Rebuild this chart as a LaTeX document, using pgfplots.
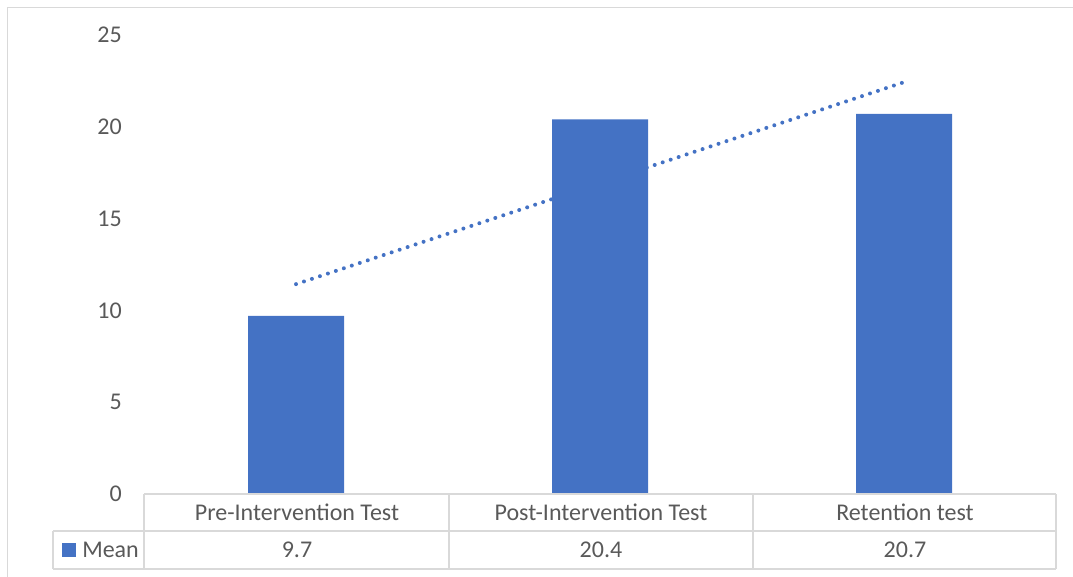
\documentclass[border=0pt]{standalone}
\usepackage{fontspec}
\setmainfont{Carlito}
\usepackage{pgfplots}
\pgfplotsset{compat=1.18}
\definecolor{barblue}{HTML}{4472C4}
\definecolor{txt}{HTML}{595959}
\definecolor{gridc}{HTML}{D9D9D9}
\begin{document}
\begin{tikzpicture}[x=0.75pt,y=-0.75pt]
\useasboundingbox (0,0) rectangle (1073,577);
\draw[gridc, line width=1.1pt] (7.5,577) -- (7.5,7.5) -- (1073,7.5);
\begin{axis}[
  at={(108pt,-370.5pt)}, anchor=south west,
  width=684pt, height=344.25pt, scale only axis,
  xmin=-0.5, xmax=2.5, ymin=0, ymax=25,
  axis line style={draw=none}, major tick length=0pt,
  xtick=\empty, ytick={0,5,10,15,20,25},
  /pgf/number format/assume math mode=true,
  yticklabel style={text=txt, font=\fontsize{18}{21}\selectfont, inner sep=0pt, anchor=east},
  yticklabel shift=16.5pt,
  clip=false,
]
\addplot[barblue, line width=3pt, line cap=round, dash pattern=on 0pt off 6.3pt] coordinates {(0,11.43) (2,22.43)};
\addplot[ybar, bar width=72pt, bar shift=0pt, fill=barblue, draw=none] coordinates {(0,9.7) (1,20.4) (2,20.7)};
\end{axis}
% data table
\begin{scope}[gridc, line width=1.1pt]
\draw (144,494) -- (1056,494);
\draw (53,531) -- (1056,531);
\draw (53,569) -- (1056,569);
\draw (53,531) -- (53,569);
\draw (144,494) -- (144,569);
\draw (449,494) -- (449,569);
\draw (753,494) -- (753,569);
\draw (1056,494) -- (1056,569);
\end{scope}
\begin{scope}[every node/.style={text=txt, font=\fontsize{18}{21}\selectfont, inner sep=0pt}]
\node[anchor=base] at (297,520) {Pre-Intervention Test};
\node[anchor=base] at (601,520) {Post-Intervention Test};
\node[anchor=base] at (905,520) {Retention test};
\node[anchor=base] at (297,557) {9.7};
\node[anchor=base] at (601,557) {20.4};
\node[anchor=base] at (905,557) {20.7};
\node[anchor=base west] at (82,557) {Mean};
\end{scope}
\fill[barblue] (62,543) rectangle (76,557);
\end{tikzpicture}
\end{document}
